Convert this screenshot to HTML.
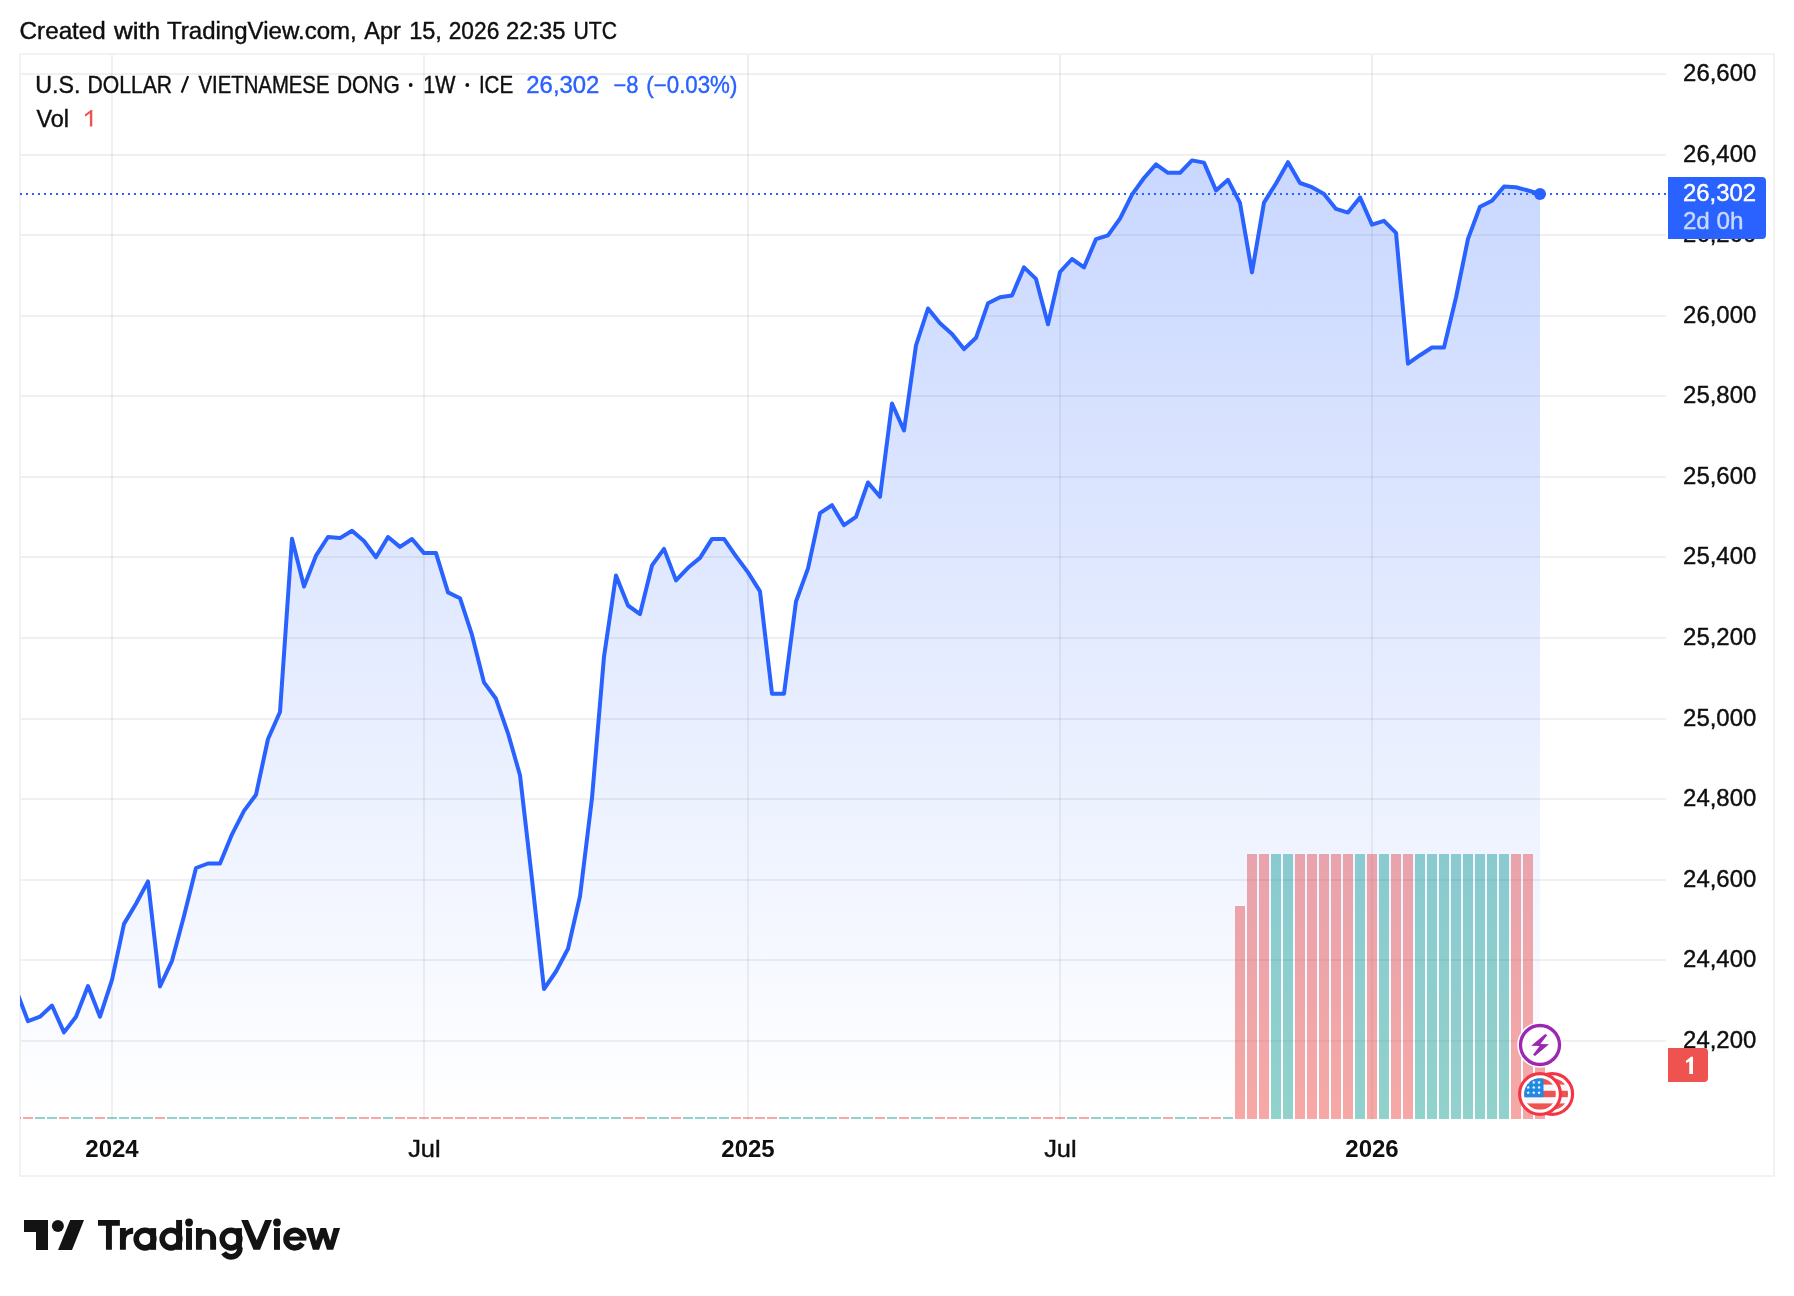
<!DOCTYPE html>
<html><head><meta charset="utf-8"><title>USDVND</title>
<style>
html,body{margin:0;padding:0;background:#fff;}
body{width:1794px;height:1296px;overflow:hidden;font-family:"Liberation Sans",sans-serif;}
svg{display:block;will-change:transform;}
text{font-family:"Liberation Sans",sans-serif;font-size:23px;fill:#0f0f0f;stroke:#0f0f0f;stroke-width:0.4px}
.ax{font-size:23px}
.b{font-weight:bold;font-size:24px;stroke:none}
.blue{fill:#2962ff;stroke:#2962ff}
.w{fill:#fff;stroke:#fff}
.w75{fill:#c9d8ff;stroke:#c9d8ff}
.r{fill:#ef5350;stroke:#ef5350}
.lg{stroke:none}
</style></head><body>
<svg width="1794" height="1296" viewBox="0 0 1794 1296">
<defs>
<linearGradient id="ag" x1="0" y1="55" x2="0" y2="1119" gradientUnits="userSpaceOnUse">
<stop offset="0" stop-color="#2962ff" stop-opacity="0.28"/>
<stop offset="1" stop-color="#2962ff" stop-opacity="0.0"/>
</linearGradient>
<clipPath id="pane"><rect x="20" y="55" width="1646" height="1064"/></clipPath>
<clipPath id="c1"><circle cx="1552.2" cy="1094" r="15.8"/></clipPath>
<clipPath id="c2"><circle cx="1540" cy="1094" r="15.8"/></clipPath>
</defs>
<rect x="0" y="0" width="1794" height="1296" fill="#ffffff"/>
<!-- header -->
<text transform="translate(19.58,38.7) scale(1.0544,1)">Created</text><text transform="translate(114.00,38.7) scale(1.1291,1)">with</text><text transform="translate(166.98,38.7) scale(1.0464,1)">TradingView.com,</text><text transform="translate(364.34,38.7) scale(1.0213,1)">Apr</text><text transform="translate(409.21,38.7) scale(1.0230,1)">15,</text><text transform="translate(448.66,38.7) scale(0.9898,1)">2026</text><text transform="translate(506.01,38.7) scale(1.0335,1)">22:35</text><text transform="translate(573.49,38.7) scale(0.9213,1)">UTC</text>
<!-- border -->
<rect x="20" y="54" width="1754" height="1122" fill="none" stroke="#f2f2f3" stroke-width="2"/>
<!-- grid -->
<rect x="21" y="73" width="1645" height="2" fill="#000" fill-opacity="0.06"/>
<rect x="21" y="154" width="1645" height="2" fill="#000" fill-opacity="0.06"/>
<rect x="21" y="234" width="1645" height="2" fill="#000" fill-opacity="0.06"/>
<rect x="21" y="315" width="1645" height="2" fill="#000" fill-opacity="0.06"/>
<rect x="21" y="395" width="1645" height="2" fill="#000" fill-opacity="0.06"/>
<rect x="21" y="476" width="1645" height="2" fill="#000" fill-opacity="0.06"/>
<rect x="21" y="556" width="1645" height="2" fill="#000" fill-opacity="0.06"/>
<rect x="21" y="637" width="1645" height="2" fill="#000" fill-opacity="0.06"/>
<rect x="21" y="718" width="1645" height="2" fill="#000" fill-opacity="0.06"/>
<rect x="21" y="798" width="1645" height="2" fill="#000" fill-opacity="0.06"/>
<rect x="21" y="879" width="1645" height="2" fill="#000" fill-opacity="0.06"/>
<rect x="21" y="959" width="1645" height="2" fill="#000" fill-opacity="0.06"/>
<rect x="21" y="1040" width="1645" height="2" fill="#000" fill-opacity="0.06"/>
<rect x="111" y="55" width="2" height="1065" fill="#000" fill-opacity="0.06"/>
<rect x="423" y="55" width="2" height="1065" fill="#000" fill-opacity="0.06"/>
<rect x="747" y="55" width="2" height="1065" fill="#000" fill-opacity="0.06"/>
<rect x="1059" y="55" width="2" height="1065" fill="#000" fill-opacity="0.06"/>
<rect x="1371" y="55" width="2" height="1065" fill="#000" fill-opacity="0.06"/>
<!-- volume -->
<g clip-path="url(#pane)" opacity="0.5">
<rect x="11" y="1117" width="10" height="2" fill="#ef5350"/>
<rect x="23" y="1117" width="10" height="2" fill="#ef5350"/>
<rect x="35" y="1117" width="10" height="2" fill="#26a69a"/>
<rect x="47" y="1117" width="10" height="2" fill="#26a69a"/>
<rect x="59" y="1117" width="10" height="2" fill="#ef5350"/>
<rect x="71" y="1117" width="10" height="2" fill="#26a69a"/>
<rect x="83" y="1117" width="10" height="2" fill="#26a69a"/>
<rect x="95" y="1117" width="10" height="2" fill="#ef5350"/>
<rect x="107" y="1117" width="10" height="2" fill="#26a69a"/>
<rect x="119" y="1117" width="10" height="2" fill="#26a69a"/>
<rect x="131" y="1117" width="10" height="2" fill="#26a69a"/>
<rect x="143" y="1117" width="10" height="2" fill="#26a69a"/>
<rect x="155" y="1117" width="10" height="2" fill="#ef5350"/>
<rect x="167" y="1117" width="10" height="2" fill="#26a69a"/>
<rect x="179" y="1117" width="10" height="2" fill="#26a69a"/>
<rect x="191" y="1117" width="10" height="2" fill="#26a69a"/>
<rect x="203" y="1117" width="10" height="2" fill="#26a69a"/>
<rect x="215" y="1117" width="10" height="2" fill="#26a69a"/>
<rect x="227" y="1117" width="10" height="2" fill="#26a69a"/>
<rect x="239" y="1117" width="10" height="2" fill="#26a69a"/>
<rect x="251" y="1117" width="10" height="2" fill="#26a69a"/>
<rect x="263" y="1117" width="10" height="2" fill="#26a69a"/>
<rect x="275" y="1117" width="10" height="2" fill="#26a69a"/>
<rect x="287" y="1117" width="10" height="2" fill="#26a69a"/>
<rect x="299" y="1117" width="10" height="2" fill="#ef5350"/>
<rect x="311" y="1117" width="10" height="2" fill="#26a69a"/>
<rect x="323" y="1117" width="10" height="2" fill="#26a69a"/>
<rect x="335" y="1117" width="10" height="2" fill="#ef5350"/>
<rect x="347" y="1117" width="10" height="2" fill="#26a69a"/>
<rect x="359" y="1117" width="10" height="2" fill="#ef5350"/>
<rect x="371" y="1117" width="10" height="2" fill="#ef5350"/>
<rect x="383" y="1117" width="10" height="2" fill="#26a69a"/>
<rect x="395" y="1117" width="10" height="2" fill="#ef5350"/>
<rect x="407" y="1117" width="10" height="2" fill="#ef5350"/>
<rect x="419" y="1117" width="10" height="2" fill="#ef5350"/>
<rect x="431" y="1117" width="10" height="2" fill="#ef5350"/>
<rect x="443" y="1117" width="10" height="2" fill="#ef5350"/>
<rect x="455" y="1117" width="10" height="2" fill="#ef5350"/>
<rect x="467" y="1117" width="10" height="2" fill="#ef5350"/>
<rect x="479" y="1117" width="10" height="2" fill="#ef5350"/>
<rect x="491" y="1117" width="10" height="2" fill="#ef5350"/>
<rect x="503" y="1117" width="10" height="2" fill="#ef5350"/>
<rect x="515" y="1117" width="10" height="2" fill="#ef5350"/>
<rect x="527" y="1117" width="10" height="2" fill="#ef5350"/>
<rect x="539" y="1117" width="10" height="2" fill="#ef5350"/>
<rect x="551" y="1117" width="10" height="2" fill="#26a69a"/>
<rect x="563" y="1117" width="10" height="2" fill="#26a69a"/>
<rect x="575" y="1117" width="10" height="2" fill="#26a69a"/>
<rect x="587" y="1117" width="10" height="2" fill="#26a69a"/>
<rect x="599" y="1117" width="10" height="2" fill="#26a69a"/>
<rect x="611" y="1117" width="10" height="2" fill="#26a69a"/>
<rect x="623" y="1117" width="10" height="2" fill="#ef5350"/>
<rect x="635" y="1117" width="10" height="2" fill="#ef5350"/>
<rect x="647" y="1117" width="10" height="2" fill="#26a69a"/>
<rect x="659" y="1117" width="10" height="2" fill="#26a69a"/>
<rect x="671" y="1117" width="10" height="2" fill="#ef5350"/>
<rect x="683" y="1117" width="10" height="2" fill="#26a69a"/>
<rect x="695" y="1117" width="10" height="2" fill="#26a69a"/>
<rect x="707" y="1117" width="10" height="2" fill="#26a69a"/>
<rect x="719" y="1117" width="10" height="2" fill="#26a69a"/>
<rect x="731" y="1117" width="10" height="2" fill="#ef5350"/>
<rect x="743" y="1117" width="10" height="2" fill="#ef5350"/>
<rect x="755" y="1117" width="10" height="2" fill="#ef5350"/>
<rect x="767" y="1117" width="10" height="2" fill="#ef5350"/>
<rect x="779" y="1117" width="10" height="2" fill="#26a69a"/>
<rect x="791" y="1117" width="10" height="2" fill="#26a69a"/>
<rect x="803" y="1117" width="10" height="2" fill="#26a69a"/>
<rect x="815" y="1117" width="10" height="2" fill="#26a69a"/>
<rect x="827" y="1117" width="10" height="2" fill="#26a69a"/>
<rect x="839" y="1117" width="10" height="2" fill="#ef5350"/>
<rect x="851" y="1117" width="10" height="2" fill="#26a69a"/>
<rect x="863" y="1117" width="10" height="2" fill="#26a69a"/>
<rect x="875" y="1117" width="10" height="2" fill="#ef5350"/>
<rect x="887" y="1117" width="10" height="2" fill="#26a69a"/>
<rect x="899" y="1117" width="10" height="2" fill="#ef5350"/>
<rect x="911" y="1117" width="10" height="2" fill="#26a69a"/>
<rect x="923" y="1117" width="10" height="2" fill="#26a69a"/>
<rect x="935" y="1117" width="10" height="2" fill="#ef5350"/>
<rect x="947" y="1117" width="10" height="2" fill="#ef5350"/>
<rect x="959" y="1117" width="10" height="2" fill="#ef5350"/>
<rect x="971" y="1117" width="10" height="2" fill="#26a69a"/>
<rect x="983" y="1117" width="10" height="2" fill="#26a69a"/>
<rect x="995" y="1117" width="10" height="2" fill="#26a69a"/>
<rect x="1007" y="1117" width="10" height="2" fill="#26a69a"/>
<rect x="1019" y="1117" width="10" height="2" fill="#26a69a"/>
<rect x="1031" y="1117" width="10" height="2" fill="#ef5350"/>
<rect x="1043" y="1117" width="10" height="2" fill="#ef5350"/>
<rect x="1055" y="1117" width="10" height="2" fill="#ef5350"/>
<rect x="1067" y="1117" width="10" height="2" fill="#26a69a"/>
<rect x="1079" y="1117" width="10" height="2" fill="#ef5350"/>
<rect x="1091" y="1117" width="10" height="2" fill="#26a69a"/>
<rect x="1103" y="1117" width="10" height="2" fill="#26a69a"/>
<rect x="1115" y="1117" width="10" height="2" fill="#26a69a"/>
<rect x="1127" y="1117" width="10" height="2" fill="#26a69a"/>
<rect x="1139" y="1117" width="10" height="2" fill="#26a69a"/>
<rect x="1151" y="1117" width="10" height="2" fill="#26a69a"/>
<rect x="1163" y="1117" width="10" height="2" fill="#ef5350"/>
<rect x="1175" y="1117" width="10" height="2" fill="#26a69a"/>
<rect x="1187" y="1117" width="10" height="2" fill="#26a69a"/>
<rect x="1199" y="1117" width="10" height="2" fill="#ef5350"/>
<rect x="1211" y="1117" width="10" height="2" fill="#ef5350"/>
<rect x="1223" y="1117" width="10" height="2" fill="#26a69a"/>
<rect x="1235" y="906" width="10" height="213" fill="#ef5350"/>
<rect x="1247" y="854" width="10" height="265" fill="#ef5350"/>
<rect x="1259" y="854" width="10" height="265" fill="#ef5350"/>
<rect x="1271" y="854" width="10" height="265" fill="#26a69a"/>
<rect x="1283" y="854" width="10" height="265" fill="#26a69a"/>
<rect x="1295" y="854" width="10" height="265" fill="#ef5350"/>
<rect x="1307" y="854" width="10" height="265" fill="#ef5350"/>
<rect x="1319" y="854" width="10" height="265" fill="#ef5350"/>
<rect x="1331" y="854" width="10" height="265" fill="#ef5350"/>
<rect x="1343" y="854" width="10" height="265" fill="#ef5350"/>
<rect x="1355" y="854" width="10" height="265" fill="#26a69a"/>
<rect x="1367" y="854" width="10" height="265" fill="#ef5350"/>
<rect x="1379" y="854" width="10" height="265" fill="#26a69a"/>
<rect x="1391" y="854" width="10" height="265" fill="#ef5350"/>
<rect x="1403" y="854" width="10" height="265" fill="#ef5350"/>
<rect x="1415" y="854" width="10" height="265" fill="#26a69a"/>
<rect x="1427" y="854" width="10" height="265" fill="#26a69a"/>
<rect x="1439" y="854" width="10" height="265" fill="#26a69a"/>
<rect x="1451" y="854" width="10" height="265" fill="#26a69a"/>
<rect x="1463" y="854" width="10" height="265" fill="#26a69a"/>
<rect x="1475" y="854" width="10" height="265" fill="#26a69a"/>
<rect x="1487" y="854" width="10" height="265" fill="#26a69a"/>
<rect x="1499" y="854" width="10" height="265" fill="#26a69a"/>
<rect x="1511" y="854" width="10" height="265" fill="#ef5350"/>
<rect x="1523" y="854" width="10" height="265" fill="#ef5350"/>
<rect x="1535" y="1065" width="10" height="54" fill="#ef5350"/>
</g>
<!-- area -->
<g clip-path="url(#pane)">
<path d="M16,1119 L16,989.5 L28,1021.2 L40,1016.7 L52,1005.5 L64,1032.4 L76,1016.7 L88,986.1 L100,1016.7 L112,979.8 L124,923.9 L136,903.8 L148,881.4 L160,986.5 L172,960.8 L184,916.1 L196,868.0 L208,863.5 L220,863.5 L232,834.3 L244,810.9 L256,794.7 L268,739.0 L280,712.0 L292,538.7 L304,586.5 L316,555.7 L328,537.0 L340,538.1 L352,530.8 L364,541.0 L376,557.2 L388,537.0 L400,546.9 L412,539.0 L424,553.1 L436,553.1 L448,592.4 L460,598.2 L472,634.9 L484,682.4 L496,698.8 L508,733.3 L520,775.2 L532,879.4 L544,989.0 L556,971.5 L568,948.8 L580,896.2 L592,798.1 L604,656.7 L616,575.4 L628,605.5 L640,614.1 L652,565.4 L664,548.9 L676,580.4 L688,567.8 L700,557.9 L712,538.9 L724,538.9 L736,556.3 L748,572.4 L760,591.4 L772,693.8 L784,693.8 L796,601.5 L808,568.4 L820,513.2 L832,505.2 L844,525.2 L856,516.8 L868,482.5 L880,496.8 L892,403.5 L904,430.5 L916,345.4 L928,308.5 L940,323.2 L952,334.0 L964,349.1 L976,337.8 L988,303.3 L1000,297.2 L1012,295.5 L1024,267.4 L1036,278.9 L1048,324.2 L1060,272.0 L1072,259.0 L1084,267.4 L1096,239.1 L1108,235.4 L1120,218.7 L1132,194.6 L1144,178.0 L1156,164.4 L1168,172.8 L1180,172.8 L1192,160.4 L1204,162.6 L1216,190.4 L1228,179.8 L1240,203.0 L1252,272.4 L1264,202.6 L1276,183.5 L1288,162.2 L1300,183.0 L1312,187.2 L1324,194.1 L1336,208.9 L1348,212.6 L1360,197.4 L1372,224.6 L1384,220.8 L1396,232.8 L1408,363.7 L1420,355.2 L1432,347.5 L1444,347.5 L1456,297.5 L1468,238.9 L1480,206.7 L1492,200.7 L1504,186.6 L1516,187.2 L1528,190.5 L1540,193.9 L1540,1119 Z" fill="url(#ag)"/>
<polyline points="16,989.5 28,1021.2 40,1016.7 52,1005.5 64,1032.4 76,1016.7 88,986.1 100,1016.7 112,979.8 124,923.9 136,903.8 148,881.4 160,986.5 172,960.8 184,916.1 196,868.0 208,863.5 220,863.5 232,834.3 244,810.9 256,794.7 268,739.0 280,712.0 292,538.7 304,586.5 316,555.7 328,537.0 340,538.1 352,530.8 364,541.0 376,557.2 388,537.0 400,546.9 412,539.0 424,553.1 436,553.1 448,592.4 460,598.2 472,634.9 484,682.4 496,698.8 508,733.3 520,775.2 532,879.4 544,989.0 556,971.5 568,948.8 580,896.2 592,798.1 604,656.7 616,575.4 628,605.5 640,614.1 652,565.4 664,548.9 676,580.4 688,567.8 700,557.9 712,538.9 724,538.9 736,556.3 748,572.4 760,591.4 772,693.8 784,693.8 796,601.5 808,568.4 820,513.2 832,505.2 844,525.2 856,516.8 868,482.5 880,496.8 892,403.5 904,430.5 916,345.4 928,308.5 940,323.2 952,334.0 964,349.1 976,337.8 988,303.3 1000,297.2 1012,295.5 1024,267.4 1036,278.9 1048,324.2 1060,272.0 1072,259.0 1084,267.4 1096,239.1 1108,235.4 1120,218.7 1132,194.6 1144,178.0 1156,164.4 1168,172.8 1180,172.8 1192,160.4 1204,162.6 1216,190.4 1228,179.8 1240,203.0 1252,272.4 1264,202.6 1276,183.5 1288,162.2 1300,183.0 1312,187.2 1324,194.1 1336,208.9 1348,212.6 1360,197.4 1372,224.6 1384,220.8 1396,232.8 1408,363.7 1420,355.2 1432,347.5 1444,347.5 1456,297.5 1468,238.9 1480,206.7 1492,200.7 1504,186.6 1516,187.2 1528,190.5 1540,193.9" fill="none" stroke="#2962ff" stroke-width="4" stroke-linejoin="round" stroke-linecap="round"/>
</g>
<!-- price line -->
<line x1="20" y1="194" x2="1666" y2="194" stroke="#2962ff" stroke-width="2" stroke-dasharray="2 4"/>
<circle cx="1540" cy="194" r="6" fill="#2962ff"/>
<!-- price axis labels -->
<text transform="translate(1683.10,80.9) scale(1.0403,1)">26,600</text>
<text transform="translate(1683.10,161.9) scale(1.0403,1)">26,400</text>
<text transform="translate(1683.10,241.9) scale(1.0403,1)">26,200</text>
<text transform="translate(1683.10,322.9) scale(1.0403,1)">26,000</text>
<text transform="translate(1683.10,402.9) scale(1.0403,1)">25,800</text>
<text transform="translate(1683.10,483.9) scale(1.0403,1)">25,600</text>
<text transform="translate(1683.10,563.9) scale(1.0403,1)">25,400</text>
<text transform="translate(1683.10,644.9) scale(1.0403,1)">25,200</text>
<text transform="translate(1683.10,725.9) scale(1.0403,1)">25,000</text>
<text transform="translate(1683.10,805.9) scale(1.0403,1)">24,800</text>
<text transform="translate(1683.10,886.9) scale(1.0403,1)">24,600</text>
<text transform="translate(1683.10,966.9) scale(1.0403,1)">24,400</text>
<text transform="translate(1683.10,1047.9) scale(1.0403,1)">24,200</text>
<!-- blue label -->
<path d="M1668,177 H1762 a4,4 0 0 1 4,4 V235 a4,4 0 0 1 -4,4 H1668 Z" fill="#2962ff"/>
<text transform="translate(1682.90,201.1) scale(1.0412,1)" class="w">26,302</text>
<text transform="translate(1682.88,229) scale(1.0539,1)" class="w75">2d 0h</text>
<!-- red label -->
<path d="M1668,1048 H1704 a4,4 0 0 1 4,4 V1078 a4,4 0 0 1 -4,4 H1668 Z" fill="#ef5350"/>
<path d="M1689.3,1074 V1061.4 L1686.3,1063.1 L1685.8,1061 L1691,1056.8 H1693 V1074 Z" fill="#fff"/>
<!-- time axis -->
<text x="112" y="1157" text-anchor="middle" class="b">2024</text>
<text transform="translate(408.15,1157) scale(1.1055,1)">Jul</text>
<text x="748" y="1157" text-anchor="middle" class="b">2025</text>
<text transform="translate(1044.15,1157) scale(1.1055,1)">Jul</text>
<text x="1372" y="1157" text-anchor="middle" class="b">2026</text>
<!-- legend -->
<text transform="translate(35.19,92.6) scale(1.0096,1)">U.S.</text><text transform="translate(87.56,92.6) scale(0.9183,1)">DOLLAR</text><text transform="translate(198.58,92.6) scale(0.8830,1)">VIETNAMESE</text><text transform="translate(336.88,92.6) scale(0.9103,1)">DONG</text><text transform="translate(423.27,92.6) scale(0.9313,1)">1W</text><text transform="translate(478.91,92.6) scale(0.8936,1)">ICE</text><line x1="181.7" y1="92.6" x2="188.1" y2="76.2" stroke="#0f0f0f" stroke-width="2.2"/><circle cx="410.7" cy="85" r="1.9" fill="#0f0f0f"/><circle cx="467.3" cy="85" r="1.9" fill="#0f0f0f"/><text transform="translate(526.30,92.6) scale(1.0397,1)" class="blue">26,302</text><text transform="translate(613.55,92.6) scale(0.9526,1)" class="blue">−8</text><text transform="translate(646.35,92.6) scale(0.9692,1)" class="blue">(−0.03%)</text><text transform="translate(36.45,126.5) scale(1.0182,1)">Vol</text><path d="M89.9,126.5 V113.3 L85.5,116.4 L84.6,114.7 L90.7,109.9 H92.3 V126.5 Z" fill="#ef5350"/>
<!-- icons -->
<g id="icons">
<circle cx="1540" cy="1045" r="22.8" fill="#fff"/>
<circle cx="1540" cy="1045" r="19.5" fill="#fff" stroke="#9c27b0" stroke-width="3.3"/>
<path d="M1531.2,1045.8 L1545.2,1034.1 L1547.2,1035.2 L1540.4,1044.1 L1549,1044.3 L1535,1056 L1533,1054.7 L1539.6,1046 Z" fill="#9c27b0"/>
<g id="flag2">
<circle cx="1552.2" cy="1094" r="20.4" fill="#fff" stroke="#f23645" stroke-width="3.1"/>
<g clip-path="url(#c1)">
<rect x="1530" y="1078.2" width="44" height="31.6" fill="#f5f7fa"/>
<rect x="1530" y="1078.2" width="44" height="6.4" fill="#ef5350"/>
<rect x="1530" y="1090.8" width="44" height="6.4" fill="#ef5350"/>
<rect x="1530" y="1103.4" width="44" height="6.4" fill="#ef5350"/>
</g>
</g>
<g id="flag1">
<circle cx="1540" cy="1094" r="20.4" fill="#fff" stroke="#f23645" stroke-width="3.1"/>
<g clip-path="url(#c2)">
<rect x="1520" y="1078.2" width="44" height="31.6" fill="#f5f7fa"/>
<rect x="1520" y="1078.2" width="44" height="6.4" fill="#ef5350"/>
<rect x="1520" y="1090.8" width="44" height="6.4" fill="#ef5350"/>
<rect x="1520" y="1103.4" width="44" height="6.4" fill="#ef5350"/>
<rect x="1520" y="1078.2" width="23.5" height="19" fill="#1e88e5"/>
<g fill="#fff"><polygon points="1528.24,1080.53 1528.71,1081.78 1530.04,1081.84 1529.00,1082.68 1529.35,1083.97 1528.24,1083.23 1527.12,1083.97 1527.47,1082.68 1526.43,1081.84 1527.77,1081.78"/><polygon points="1533.75,1080.53 1534.22,1081.78 1535.56,1081.84 1534.51,1082.68 1534.87,1083.97 1533.75,1083.23 1532.63,1083.97 1532.99,1082.68 1531.94,1081.84 1533.28,1081.78"/><polygon points="1539.09,1080.53 1539.56,1081.78 1540.90,1081.84 1539.85,1082.68 1540.21,1083.97 1539.09,1083.23 1537.98,1083.97 1538.33,1082.68 1537.29,1081.84 1538.62,1081.78"/><polygon points="1528.24,1085.62 1528.71,1086.87 1530.04,1086.93 1529.00,1087.77 1529.35,1089.06 1528.24,1088.32 1527.12,1089.06 1527.47,1087.77 1526.43,1086.93 1527.77,1086.87"/><polygon points="1533.75,1085.62 1534.22,1086.87 1535.56,1086.93 1534.51,1087.77 1534.87,1089.06 1533.75,1088.32 1532.63,1089.06 1532.99,1087.77 1531.94,1086.93 1533.28,1086.87"/><polygon points="1539.09,1085.62 1539.56,1086.87 1540.90,1086.93 1539.85,1087.77 1540.21,1089.06 1539.09,1088.32 1537.98,1089.06 1538.33,1087.77 1537.29,1086.93 1538.62,1086.87"/><polygon points="1528.24,1090.71 1528.71,1091.96 1530.04,1092.02 1529.00,1092.86 1529.35,1094.15 1528.24,1093.41 1527.12,1094.15 1527.47,1092.86 1526.43,1092.02 1527.77,1091.96"/><polygon points="1533.75,1090.71 1534.22,1091.96 1535.56,1092.02 1534.51,1092.86 1534.87,1094.15 1533.75,1093.41 1532.63,1094.15 1532.99,1092.86 1531.94,1092.02 1533.28,1091.96"/><polygon points="1539.09,1090.71 1539.56,1091.96 1540.90,1092.02 1539.85,1092.86 1540.21,1094.15 1539.09,1093.41 1537.98,1094.15 1538.33,1092.86 1537.29,1092.02 1538.62,1091.96"/></g>
</g>
</g>
</g>
<!-- logo -->
<g id="logo" fill="#131313">
<path d="M24,1220 H48 V1250 H36 V1232 H24 Z"/>
<circle cx="57.9" cy="1225.9" r="6"/>
<path d="M70.2,1220 H84 L72,1250 H58.1 Z"/>
<path d="M97.99,1219.97 H119.87 V1225.77 H111.9 V1249.83 H105.96 V1225.77 H97.99 Z"/><path d="M119.94,1228.1 H125.88 V1231.2 Q128.2,1227.7 133.13,1227.7 V1233.7 Q125.88,1233.7 125.88,1240 V1249.83 H119.94 Z"/><circle cx="145.0" cy="1239.05" r="8.8" fill="none" stroke="#131313" stroke-width="5.6"/><rect x="150.16" y="1228.1" width="5.94" height="21.73"/><circle cx="171.0" cy="1239.05" r="8.8" fill="none" stroke="#131313" stroke-width="5.6"/><rect x="176.1" y="1219.97" width="5.94" height="29.86"/><circle cx="189.05" cy="1222.5" r="3.88"/><rect x="186.03" y="1228.1" width="5.94" height="21.73"/><path d="M195.96,1249.83 V1228.1 H201.83 V1230.2 A10.07,10.07 0 0 1 216.1,1237.5 V1249.83 H210.16 V1237.5 A4.17,4.17 0 0 0 201.83,1237.5 V1249.83 Z"/><circle cx="231.03" cy="1239.05" r="8.8" fill="none" stroke="#131313" stroke-width="5.6"/><rect x="236.1" y="1228.1" width="5.8" height="19.90"/><path d="M239.90,1247.5 V1248.00 A8.8,8.8 0 0 1 223.65,1252.79" fill="none" stroke="#131313" stroke-width="5.8"/><path d="M241.2,1219.97 H248.1 L256.75,1240.3 L265.1,1219.97 H272 L260,1249.83 H253.5 Z"/><circle cx="277.0" cy="1222.5" r="3.88"/><rect x="274.0" y="1228.1" width="5.94" height="21.73"/><path d="M302.38,1243.44 A8.75,8.75 0 1 1 303.55,1239.05" fill="none" stroke="#131313" stroke-width="5.6"/><rect x="288" y="1236.6" width="18.35" height="4.0"/><path d="M306.2,1228.1 H312.9 L316.03,1241 L320.5,1228.1 H326 L330.16,1241 L333.6,1228.1 H340.1 L333.2,1249.83 H327 L323.2,1237.7 L319.07,1249.83 H312.9 Z"/>
</g>
</svg>
</body></html>
